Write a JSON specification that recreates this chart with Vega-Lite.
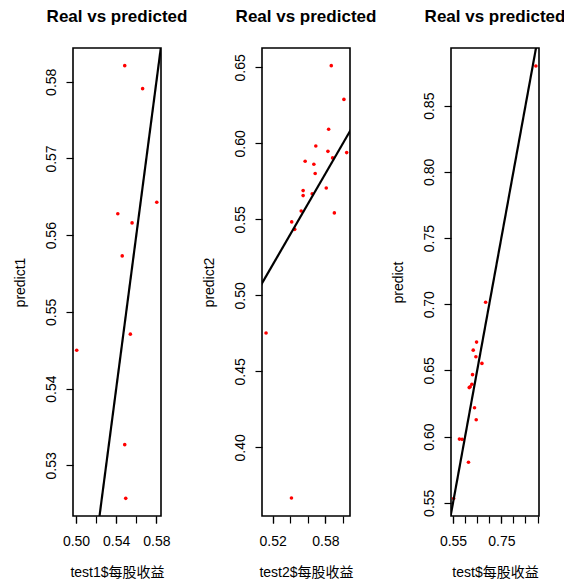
{
  "$schema": "https://vega.github.io/schema/vega-lite/v6.json",
  "background": "white",
  "padding": {"left": 12, "top": 7, "right": 0, "bottom": 0},
  "bounds": "flush",
  "spacing": 101,
  "config": {
    "font": "Liberation Sans, Noto Sans CJK SC",
    "view": {"stroke": "black", "strokeWidth": 1.6},
    "axis": {"domain": false, "grid": false, "ticks": true, "tickColor": "black", "tickSize": 7, "tickWidth": 1.2, "labelColor": "black", "labelFont": "Liberation Sans", "labelFontSize": 14, "titleFont": "Liberation Sans, Noto Sans CJK SC", "titleFontSize": 14, "titleFontWeight": "normal", "titleColor": "black", "labelOverlap": false, "labelFlush": false},
    "axisY": {"labelAngle": -90, "labelAlign": "center", "labelBaseline": "bottom", "labelPadding": 8, "minExtent": 30, "maxExtent": 30, "titlePadding": 16},
    "axisX": {"labelAngle": 0, "labelAlign": "center", "labelBaseline": "top", "labelPadding": 11, "titlePadding": 17},
    "title": {"fontSize": 17, "fontWeight": "bold", "frame": "group", "anchor": "middle", "offset": 22, "color": "black", "font": "Liberation Sans"}
  },
  "datasets": {
    "p1": [
      {"real": 0.5485, "predicted": 0.5821}, {"real": 0.5663, "predicted": 0.5791}, {"real": 0.5804, "predicted": 0.5643},
      {"real": 0.5416, "predicted": 0.5628}, {"real": 0.5558, "predicted": 0.5616}, {"real": 0.546, "predicted": 0.5573},
      {"real": 0.5541, "predicted": 0.5471}, {"real": 0.5007, "predicted": 0.545}, {"real": 0.5485, "predicted": 0.5327},
      {"real": 0.5495, "predicted": 0.5257}
    ],
    "p2": [
      {"real": 0.5867, "predicted": 0.6511}, {"real": 0.6011, "predicted": 0.6289}, {"real": 0.5837, "predicted": 0.6092},
      {"real": 0.5691, "predicted": 0.5982}, {"real": 0.5829, "predicted": 0.5947}, {"real": 0.6042, "predicted": 0.5939},
      {"real": 0.5882, "predicted": 0.5904}, {"real": 0.557, "predicted": 0.5882}, {"real": 0.5669, "predicted": 0.5862},
      {"real": 0.5684, "predicted": 0.5801}, {"real": 0.581, "predicted": 0.5706}, {"real": 0.5547, "predicted": 0.5689},
      {"real": 0.5547, "predicted": 0.5656}, {"real": 0.565, "predicted": 0.5668}, {"real": 0.5525, "predicted": 0.5555},
      {"real": 0.5902, "predicted": 0.5542}, {"real": 0.5417, "predicted": 0.5483}, {"real": 0.5451, "predicted": 0.5434},
      {"real": 0.5125, "predicted": 0.4752}, {"real": 0.5414, "predicted": 0.3666}
    ],
    "p3": [
      {"real": 0.893, "predicted": 0.88}, {"real": 0.685, "predicted": 0.7015}, {"real": 0.6475, "predicted": 0.6714},
      {"real": 0.6337, "predicted": 0.6653}, {"real": 0.6447, "predicted": 0.6603}, {"real": 0.6697, "predicted": 0.6553},
      {"real": 0.6308, "predicted": 0.6468}, {"real": 0.628, "predicted": 0.6395}, {"real": 0.621, "predicted": 0.6377},
      {"real": 0.617, "predicted": 0.637}, {"real": 0.639, "predicted": 0.6218}, {"real": 0.646, "predicted": 0.6127},
      {"real": 0.5764, "predicted": 0.5981}, {"real": 0.5876, "predicted": 0.5979}, {"real": 0.614, "predicted": 0.5806},
      {"real": 0.5526, "predicted": 0.5532}
    ],
    "ref": [
      {"real": 0.3, "predicted": 0.3}, {"real": 1.0, "predicted": 1.0}
    ]
  },
  "hconcat": [
    {
      "width": 88, "height": 468,
      "title": {"text": "Real vs predicted"},
      "resolve": {"axis": {"x": "independent"}},
      "layer": [
        {
          "data": {"name": "p1"},
          "mark": {"type": "point", "shape": "circle", "filled": true, "color": "#ff0000", "size": 13, "opacity": 1},
          "encoding": {
            "x": {"field": "real", "type": "quantitative", "scale": {"domain": [0.497, 0.5846], "nice": false, "zero": false},
                  "axis": {"orient": "bottom", "title": "test1$每股收益", "values": [0.5, 0.54, 0.58], "format": ".2f"}},
            "y": {"field": "predicted", "type": "quantitative", "scale": {"domain": [0.5234, 0.5844], "nice": false, "zero": false},
                  "axis": {"title": "predict1", "values": [0.53, 0.54, 0.55, 0.56, 0.57, 0.58], "format": ".2f"}}
          }
        },
        {
          "data": {"name": "ref"},
          "mark": {"type": "line", "color": "black", "strokeWidth": 2.2, "clip": true},
          "encoding": {
            "x": {"field": "real", "type": "quantitative", "axis": {"orient": "bottom", "title": null, "labels": false, "values": [0.5, 0.52, 0.54, 0.56, 0.58]}},
            "y": {"field": "predicted", "type": "quantitative"}
          }
        }
      ]
    },
    {
      "width": 88, "height": 468,
      "title": {"text": "Real vs predicted"},
      "resolve": {"axis": {"x": "independent"}},
      "layer": [
        {
          "data": {"name": "p2"},
          "mark": {"type": "point", "shape": "circle", "filled": true, "color": "#ff0000", "size": 13, "opacity": 1},
          "encoding": {
            "x": {"field": "real", "type": "quantitative", "scale": {"domain": [0.5079, 0.608], "nice": false, "zero": false},
                  "axis": {"orient": "bottom", "title": "test2$每股收益", "values": [0.52, 0.58], "format": ".2f"}},
            "y": {"field": "predicted", "type": "quantitative", "scale": {"domain": [0.3548, 0.6627], "nice": false, "zero": false},
                  "axis": {"title": "predict2", "values": [0.4, 0.45, 0.5, 0.55, 0.6, 0.65], "format": ".2f"}}
          }
        },
        {
          "data": {"name": "ref"},
          "mark": {"type": "line", "color": "black", "strokeWidth": 2.2, "clip": true},
          "encoding": {
            "x": {"field": "real", "type": "quantitative", "axis": {"orient": "bottom", "title": null, "labels": false, "values": [0.52, 0.54, 0.56, 0.58, 0.6]}},
            "y": {"field": "predicted", "type": "quantitative"}
          }
        }
      ]
    },
    {
      "width": 88, "height": 468,
      "title": {"text": "Real vs predicted"},
      "resolve": {"axis": {"x": "independent"}},
      "layer": [
        {
          "data": {"name": "p3"},
          "mark": {"type": "point", "shape": "circle", "filled": true, "color": "#ff0000", "size": 13, "opacity": 1},
          "encoding": {
            "x": {"field": "real", "type": "quantitative", "scale": {"domain": [0.5416, 0.906], "nice": false, "zero": false},
                  "axis": {"orient": "bottom", "title": "test$每股收益", "values": [0.55, 0.75], "format": ".2f"}},
            "y": {"field": "predicted", "type": "quantitative", "scale": {"domain": [0.54, 0.8936], "nice": false, "zero": false},
                  "axis": {"title": "predict", "values": [0.55, 0.6, 0.65, 0.7, 0.75, 0.8, 0.85], "format": ".2f"}}
          }
        },
        {
          "data": {"name": "ref"},
          "mark": {"type": "line", "color": "black", "strokeWidth": 2.2, "clip": true},
          "encoding": {
            "x": {"field": "real", "type": "quantitative", "axis": {"orient": "bottom", "title": null, "labels": false, "values": [0.55, 0.6, 0.65, 0.7, 0.75, 0.8, 0.85, 0.9]}},
            "y": {"field": "predicted", "type": "quantitative"}
          }
        }
      ]
    }
  ]
}
